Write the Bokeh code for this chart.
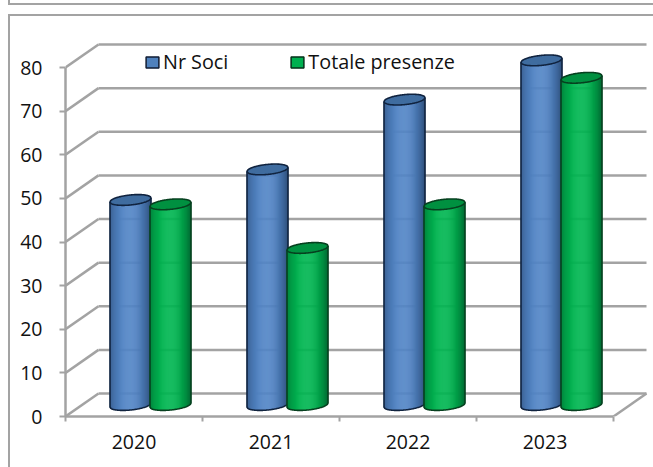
import numpy as np
from bokeh.embed import file_html
from bokeh.resources import INLINE
from bokeh.plotting import figure
from bokeh.models import FixedTicker, Legend, LegendItem, LinearAxis, InlineStyleSheet

years = ["2020", "2021", "2022", "2023"]
nr_soci = [47, 54, 70, 79]
totale_presenze = [46, 36, 46, 75]
y_ticks = [0, 10, 20, 30, 40, 50, 60, 70, 80]

GRID = "#a3a3a3"
FONT = "Open Sans"
W, H = 653, 467
L, R, T, B = 65, 650, 40, 416
PX_X = 137.0                # pixels per category
PX_Y = (416 - 67) / 80.0    # pixels per value unit
DX = 33 / PX_X              # depth of the 3D box in data units
DY = 23 / PX_Y

# outer frames of the page
frames = InlineStyleSheet(css=f"""
:host::before {{ content:""; position:absolute; z-index:5; pointer-events:none; box-sizing:border-box;
  left:8px; top:14px; right:0; bottom:0; border-left:2px solid {GRID}; border-top:2px solid {GRID}; }}
:host::after {{ content:""; position:absolute; z-index:5; pointer-events:none; box-sizing:border-box;
  left:8px; top:0; right:0; height:5px; border-left:2px solid {GRID}; border-bottom:2px solid {GRID}; }}
""")

p = figure(width=W, height=H, output_backend="svg", toolbar_location=None,
           x_range=(0, (R - L) / PX_X), y_range=(0, (B - T) / PX_Y),
           x_axis_type=None, y_axis_type=None,
           min_border_left=L, min_border_right=W - R, min_border_top=T, min_border_bottom=H - B,
           outline_line_color=None, background_fill_color="white", border_fill_color="white",
           stylesheets=[frames])
p.xgrid.visible = False
p.ygrid.visible = False

# back wall & side wall gridlines
xmax = 4 + DX
p.segment(x0=[0] * len(y_ticks), y0=y_ticks, x1=[DX] * len(y_ticks), y1=[v + DY for v in y_ticks],
          line_color=GRID, line_width=2.5)
p.segment(x0=[DX] * len(y_ticks), y0=[v + DY for v in y_ticks], x1=[xmax] * len(y_ticks), y1=[v + DY for v in y_ticks],
          line_color=GRID, line_width=2.5)
p.segment(x0=[4], y0=[0], x1=[xmax], y1=[DY], line_color=GRID, line_width=2.5)


def lerp_hex(c0, c1, t):
    a = [int(c0[i:i + 2], 16) for i in (1, 3, 5)]
    b = [int(c1[i:i + 2], 16) for i in (1, 3, 5)]
    return "#%02x%02x%02x" % tuple(int(round(x + (y - x) * t)) for x, y in zip(a, b))


HALF = 20.5 / PX_X
EB = 5.0 / PX_Y
TILT = 2.0 / PX_Y
BASE = DY / 2
N = 40
us = (np.arange(N) + 0.5) / N * 2 - 1
ts = np.linspace(-1, 1, 61)
arc = np.sqrt(1 - ts ** 2)


def cylinders(values, shift, centre, edge, top_fill, ink):
    for i, v in enumerate(values):
        cx = i + 0.5 + DX / 2 + shift
        top_y = v + BASE
        xs = cx + HALF * us
        low = BASE + TILT * us - EB * np.sqrt(1 - us ** 2)
        high = top_y + TILT * us
        cols = [lerp_hex(centre, edge, abs(u + 0.08) ** 2.4 / 1.2) for u in us]
        p.vbar(x=xs, top=high, bottom=low, width=2 * HALF / N * 1.4, fill_color=cols, line_color=None)
        # silhouette
        ox = np.concatenate([[cx - HALF], cx + HALF * ts, [cx + HALF]])
        oy = np.concatenate([[top_y - TILT], BASE + TILT * ts - EB * arc, [top_y + TILT]])
        p.line(ox, oy, line_color=ink, line_width=1.6)
        # top ellipse
        ex = np.concatenate([cx + HALF * ts, cx + HALF * ts[::-1]])
        ey = np.concatenate([top_y + TILT * ts - EB * arc, (top_y + TILT * ts + EB * arc)[::-1]])
        p.patch(ex, ey, fill_color=top_fill, line_color=ink, line_width=1.6)


OFFSET = 20 / PX_X
cylinders(nr_soci, -OFFSET, "#5285c6", "#2f4f7a", "#3f6c9f", "#10233f")
cylinders(totale_presenze, OFFSET, "#00b651", "#006a32", "#009040", "#06401f")

# axes
yax = LinearAxis(ticker=FixedTicker(ticks=y_ticks), bounds=(0, 80))
yax.axis_line_color = GRID
yax.axis_line_width = 2.5
yax.major_tick_line_color = GRID
yax.major_tick_line_width = 2
yax.major_tick_out = 6
yax.major_tick_in = 0
yax.minor_tick_line_color = None
yax.major_label_standoff = 17
yax.major_label_text_font = FONT
yax.major_label_text_font_size = "19.5px"
yax.major_label_text_color = "#111111"
p.add_layout(yax, "left")

xax = LinearAxis(ticker=FixedTicker(ticks=[i + 0.5 for i in range(len(years))],
                                    minor_ticks=list(range(len(years) + 1))),
                 bounds=(0, 4),
                 major_label_overrides={i + 0.5: y for i, y in enumerate(years)})
xax.axis_line_color = GRID
xax.axis_line_width = 2.5
xax.major_tick_line_color = None
xax.major_tick_out = 0
xax.major_tick_in = 0
xax.minor_tick_line_color = GRID
xax.minor_tick_line_width = 2
xax.minor_tick_out = 5
xax.minor_tick_in = 0
xax.major_label_standoff = 13
xax.major_label_text_font = FONT
xax.major_label_text_font_size = "19.5px"
xax.major_label_text_color = "#111111"
p.add_layout(xax, "below")

# legend
r1 = p.vbar(x=[-5], top=[-5], width=0.1, fill_color="#4f81bd", line_color="#111d33", line_width=1.5)
r2 = p.vbar(x=[-5], top=[-5], width=0.1, fill_color="#00b050", line_color="#06301a", line_width=1.5)
legend = Legend(items=[LegendItem(label="Nr Soci", renderers=[r1]),
                       LegendItem(label="Totale presenze", renderers=[r2])],
                orientation="horizontal", location=(79, 341),
                background_fill_alpha=0, border_line_color=None,
                glyph_width=16, glyph_height=14, label_standoff=3, spacing=61,
                padding=0, margin=0,
                label_text_font=FONT, label_text_font_size="19.8px", label_text_color="#111111")
p.add_layout(legend, "center")

open("out.html", "w").write(file_html(p, INLINE))
